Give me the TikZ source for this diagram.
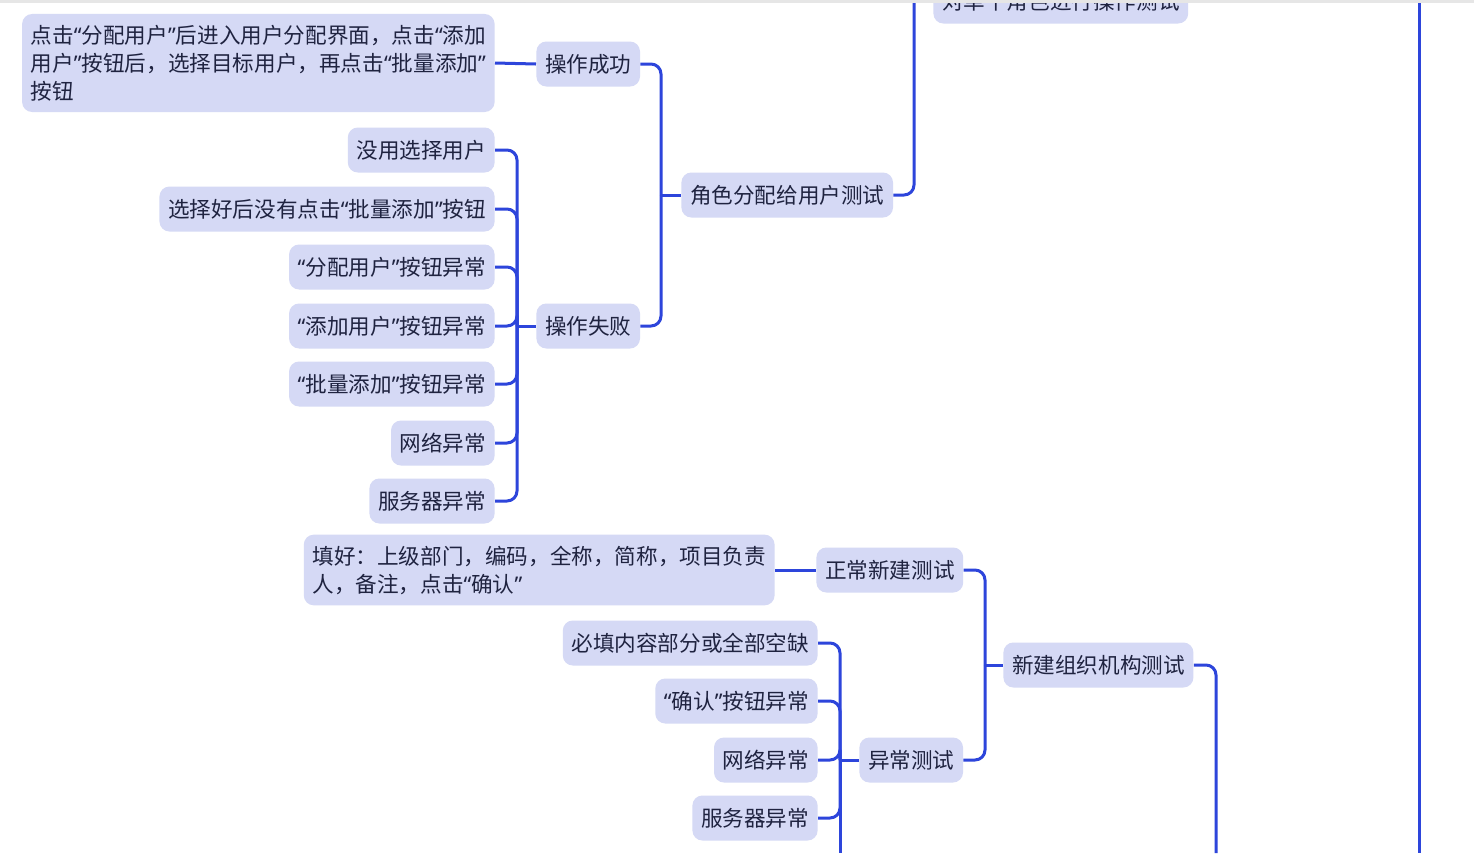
\documentclass[tikz,border=0pt]{standalone}
\usepackage{fontspec}
\setmainfont{Noto Sans CJK SC}
\newfontfamily\quotefont{Noto Sans}
\newcommand\oq{{\quotefont “}}
\newcommand\cq{{\quotefont ”}}
\usepackage{tikz}
\usetikzlibrary{calc}
\definecolor{branchBlue}{HTML}{2D45DB}
\definecolor{topicBack}{HTML}{D5D9F5}
\definecolor{topicInk}{HTML}{1F2340}
\definecolor{edgeGrey}{HTML}{E6E6E6}

\begin{document}
\begin{tikzpicture}[x=0.5pt,y=-0.5pt,line join=round]
  \tikzstyle{topic}=[fill=topicBack,text=topicInk,rounded corners=5pt,minimum height=22.5pt,inner xsep=4.3pt,inner ysep=5.5pt,font=\fontsize{10.8pt}{14pt}\selectfont]
  \tikzstyle{link}=[draw=branchBlue,line width=1.5pt,rounded corners=5pt]
  \useasboundingbox (0,0) rectangle (1474,853);
  \fill[white] (0,0) rectangle (1474,853);
  \clip (0,0) rectangle (1474,853);
  % role assignment branch
  \node[topic,anchor=west] (single) at (933,1) {对单个角色进行操作测试};
  \node[topic,anchor=west] (assign) at (681,195) {角色分配给用户测试};
  \node[topic,anchor=west] (ok) at (536,64) {操作成功};
  \node[topic,anchor=east,align=left] (okStep) at (495,63) {点击\oq 分配用户\cq 后进入用户分配界面，点击\oq 添加\\用户\cq 按钮后，选择目标用户，再点击\oq 批量添加\cq\\按钮};
  \node[topic,anchor=west] (fail) at (536,326) {操作失败};
  \node[topic,anchor=east] (fail1) at (495,150) {没用选择用户};
  \node[topic,anchor=east] (fail2) at (495,209) {选择好后没有点击\oq 批量添加\cq 按钮};
  \node[topic,anchor=east] (fail3) at (495,267) {\oq 分配用户\cq 按钮异常};
  \node[topic,anchor=east] (fail4) at (495,326) {\oq 添加用户\cq 按钮异常};
  \node[topic,anchor=east] (fail5) at (495,384) {\oq 批量添加\cq 按钮异常};
  \node[topic,anchor=east] (fail6) at (495,443) {网络异常};
  \node[topic,anchor=east] (fail7) at (495,501) {服务器异常};
  % new organisation branch
  \node[topic,anchor=west] (org) at (1003,665) {新建组织机构测试};
  \node[topic,anchor=west] (normal) at (816,570) {正常新建测试};
  \node[topic,anchor=east,align=left] (normalStep) at (775,570) {填好：上级部门，编码，全称，简称，项目负责\\人，备注，点击\oq 确认\cq};
  \node[topic,anchor=west] (abnormal) at (859,760) {异常测试};
  \node[topic,anchor=east] (abn1) at (818,643) {必填内容部分或全部空缺};
  \node[topic,anchor=east] (abn2) at (818,701) {\oq 确认\cq 按钮异常};
  \node[topic,anchor=east] (abn3) at (818,760) {网络异常};
  \node[topic,anchor=east] (abn4) at (818,818) {服务器异常};
  % bus points
  \coordinate (failBus) at (517,326);
  \coordinate (assignBus) at (661,195);
  \coordinate (singleBus) at (914,1);
  \coordinate (abnBus) at (840,760);
  \coordinate (abnMore) at (840,853);
  \coordinate (orgIn) at (985,665);
  \coordinate (orgBus) at (1216,853);
  \coordinate (rootTop) at (1419,0);
  \coordinate (rootBottom) at (1419,853);
  % connectors
  \draw[link] (okStep.east) -- (ok.west);
  \foreach \n in {fail1,fail2,fail3,fail4,fail5,fail6,fail7}
    \draw[link] (\n.east) -| (failBus);
  \draw[link] (failBus) -- (fail.west);
  \foreach \n in {ok,fail}
    \draw[link] (\n.east) -| (assignBus);
  \draw[link] (assignBus) -- (assign.west);
  \draw[link] (assign.east) -| (singleBus);
  \draw[link] (singleBus) -- (single.west);
  \draw[link] (normalStep.east) -- (normal.west);
  \foreach \n in {abn1,abn2,abn3,abn4}
    \draw[link] (\n.east) -| (abnBus);
  \draw[link] (abnBus) -- (abnMore);
  \draw[link] (abnBus) -- (abnormal.west);
  \foreach \n in {normal,abnormal}
    \draw[link] (\n.east) -| (orgIn);
  \draw[link] (orgIn) -- (org.west);
  \draw[link] (org.east) -| (orgBus);
  \draw[link] (rootTop) -- (rootBottom);
  \fill[edgeGrey] (0,0) rectangle (1474,2.5);
\end{tikzpicture}
\end{document}
